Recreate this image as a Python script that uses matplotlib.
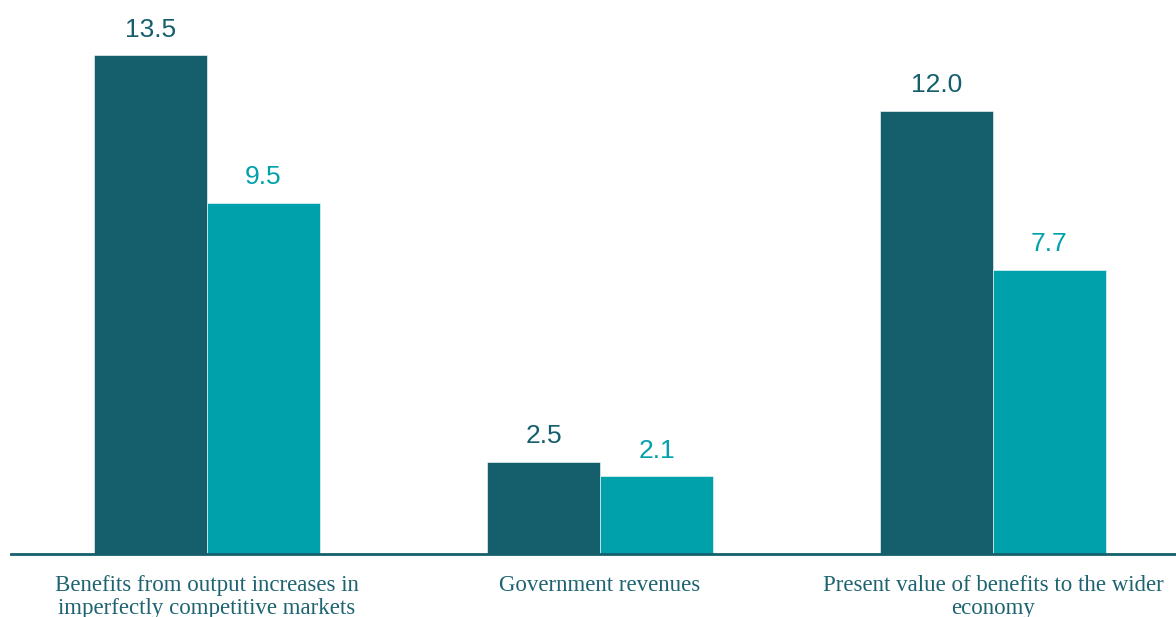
import matplotlib
matplotlib.use("Agg")
import matplotlib.pyplot as plt
import numpy as np

# Benefit categories (£bn) and two estimate series
categories = [
    "Benefits from output increases in\nimperfectly competitive markets",
    "Government revenues",
    "Present value of benefits to the wider\neconomy",
]
series_a = [13.5, 2.5, 12.0]
series_b = [9.5, 2.1, 7.7]

dark = "#155F6D"
light = "#00A1AB"
label_col = "#1E6470"

fig = plt.figure(figsize=(11.76, 6.17), dpi=100)
ax = fig.add_axes([11 / 1176, 63 / 617, 1 - 11 / 1176, 554 / 617])

x = np.arange(len(categories))
w = 0.2875
bars_a = ax.bar(x - w / 2, series_a, width=w, color=dark, edgecolor="white", linewidth=0.4)
bars_b = ax.bar(x + w / 2, series_b, width=w, color=light, edgecolor="white", linewidth=0.4)

for bars, col in ((bars_a, dark), (bars_b, light)):
    for b in bars:
        ax.annotate(f"{b.get_height():.1f}",
                    (b.get_x() + b.get_width() / 2, b.get_height()),
                    xytext=(0, 10), textcoords="offset points",
                    ha="center", va="bottom", fontsize=19, color=col,
                    family="Liberation Sans")

ax.set_xlim(-0.4987, 2.4657)
ax.set_ylim(0, 15)
ax.set_yticks([])
for s in ("top", "right", "left"):
    ax.spines[s].set_visible(False)
ax.spines["bottom"].set_color(dark)
ax.spines["bottom"].set_linewidth(2)

ax.set_xticks(x)
ax.set_xticklabels(categories, family="Liberation Serif", fontsize=16.5,
                   color=label_col, linespacing=1.15)
ax.tick_params(axis="x", length=0, pad=15)

fig.savefig("out.png", dpi=100)
